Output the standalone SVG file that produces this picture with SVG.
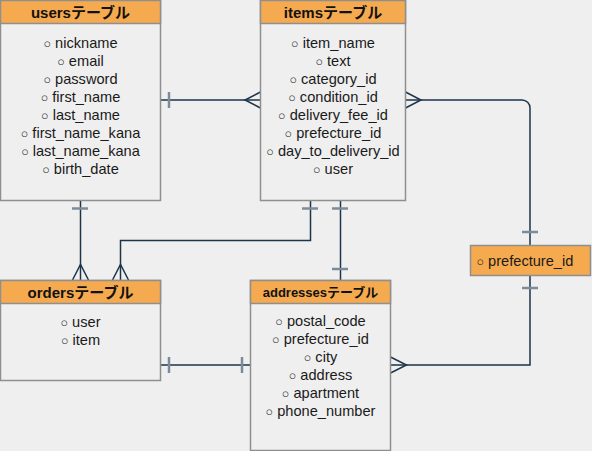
<svg xmlns="http://www.w3.org/2000/svg" width="592" height="451" viewBox="0 0 592 451">
<style>
.body{fill:#efefef;stroke:#8f8f8f;stroke-width:1.5}
.head{fill:#f6aa4f;stroke:#8f8f8f;stroke-width:1.5}
.ht{font-family:"Liberation Sans","Noto Sans CJK JP",sans-serif;font-weight:bold;font-size:15px;fill:#111;text-anchor:middle}
.rt{font-family:"Liberation Sans","Noto Sans CJK JP",sans-serif;font-size:14.6px;fill:#1a1a1a;text-anchor:middle}
.c{font-size:12.5px}
.ln{fill:none;stroke:#1d3449;stroke-width:1.5}
.tk{fill:none;stroke:#7c8b99;stroke-width:2.5}
</style>
<rect x="0" y="0" width="592" height="451" fill="#efefef"/>
<g id="connectors">
  <path class="ln" d="M160.5 100H260.5"/>
  <path class="tk" d="M169 92V108"/>
  <path class="ln" d="M260.5 92L245 100L260.5 108"/>
  <path class="ln" d="M405.5 100H522a8 8 0 0 1 8 8V245.5"/>
  <path class="ln" d="M405.5 92L421 100L405.5 108"/>
  <path class="tk" d="M522 232H538"/>
  <path class="ln" d="M530 275.5V365H390.5"/>
  <path class="tk" d="M522 288H538"/>
  <path class="ln" d="M390.5 357L406.5 365L390.5 373"/>
  <path class="ln" d="M80.5 200.5V280"/>
  <path class="tk" d="M72 208.5H88"/>
  <path class="ln" d="M72.5 280L80.5 264.5L88.5 280"/>
  <path class="ln" d="M310.5 200.5V240.5H120.5V280"/>
  <path class="tk" d="M302 208.5H318"/>
  <path class="ln" d="M112.5 280L120.5 264.5L128.5 280"/>
  <path class="ln" d="M340.5 200.5V280"/>
  <path class="tk" d="M332 208.5H348"/>
  <path class="tk" d="M332 269H348"/>
  <path class="ln" d="M160.5 365H250.5"/>
  <path class="tk" d="M169 357V373"/>
  <path class="tk" d="M242 357V373"/>
</g>
<g id="users">
  <rect class="body" x="0.5" y="0.5" width="160" height="200"/>
  <rect class="head" x="0.5" y="0.5" width="160" height="23"/>
  <text class="ht" x="80.5" y="18">usersテーブル</text>
  <text class="rt" x="80.5" y="48"><tspan class="c">○</tspan> nickname</text>
  <text class="rt" x="80.5" y="66"><tspan class="c">○</tspan> email</text>
  <text class="rt" x="80.5" y="84"><tspan class="c">○</tspan> password</text>
  <text class="rt" x="80.5" y="102"><tspan class="c">○</tspan> first_name</text>
  <text class="rt" x="80.5" y="120"><tspan class="c">○</tspan> last_name</text>
  <text class="rt" x="80.5" y="138"><tspan class="c">○</tspan> first_name_kana</text>
  <text class="rt" x="80.5" y="156"><tspan class="c">○</tspan> last_name_kana</text>
  <text class="rt" x="80.5" y="174"><tspan class="c">○</tspan> birth_date</text>
</g>
<g id="items">
  <rect class="body" x="260.5" y="0.5" width="145" height="200"/>
  <rect class="head" x="260.5" y="0.5" width="145" height="23"/>
  <text class="ht" x="333" y="18">itemsテーブル</text>
  <text class="rt" x="333" y="48"><tspan class="c">○</tspan> item_name</text>
  <text class="rt" x="333" y="66"><tspan class="c">○</tspan> text</text>
  <text class="rt" x="333" y="84"><tspan class="c">○</tspan> category_id</text>
  <text class="rt" x="333" y="102"><tspan class="c">○</tspan> condition_id</text>
  <text class="rt" x="333" y="120"><tspan class="c">○</tspan> delivery_fee_id</text>
  <text class="rt" x="333" y="138"><tspan class="c">○</tspan> prefecture_id</text>
  <text class="rt" x="333" y="156"><tspan class="c">○</tspan> day_to_delivery_id</text>
  <text class="rt" x="333" y="174"><tspan class="c">○</tspan> user</text>
</g>
<g id="orders">
  <rect class="body" x="0.5" y="280.5" width="160" height="100"/>
  <rect class="head" x="0.5" y="280.5" width="160" height="23"/>
  <text class="ht" x="80.5" y="298">ordersテーブル</text>
  <text class="rt" x="80.5" y="327"><tspan class="c">○</tspan> user</text>
  <text class="rt" x="80.5" y="345"><tspan class="c">○</tspan> item</text>
</g>
<g id="addresses">
  <rect class="body" x="250.5" y="280.5" width="140" height="170"/>
  <rect class="head" x="250.5" y="280.5" width="140" height="23"/>
  <text class="ht" x="320.5" y="297" style="font-size:13px">addressesテーブル</text>
  <text class="rt" x="320.5" y="326"><tspan class="c">○</tspan> postal_code</text>
  <text class="rt" x="320.5" y="344"><tspan class="c">○</tspan> prefecture_id</text>
  <text class="rt" x="320.5" y="362"><tspan class="c">○</tspan> city</text>
  <text class="rt" x="320.5" y="380"><tspan class="c">○</tspan> address</text>
  <text class="rt" x="320.5" y="398"><tspan class="c">○</tspan> apartment</text>
  <text class="rt" x="320.5" y="416"><tspan class="c">○</tspan> phone_number</text>
</g>
<g id="prefecture">
  <rect class="head" x="470.5" y="245.5" width="120" height="30"/>
  <text class="rt" x="476.5" y="266" style="text-anchor:start"><tspan class="c">○</tspan> prefecture_id</text>
</g>
</svg>
